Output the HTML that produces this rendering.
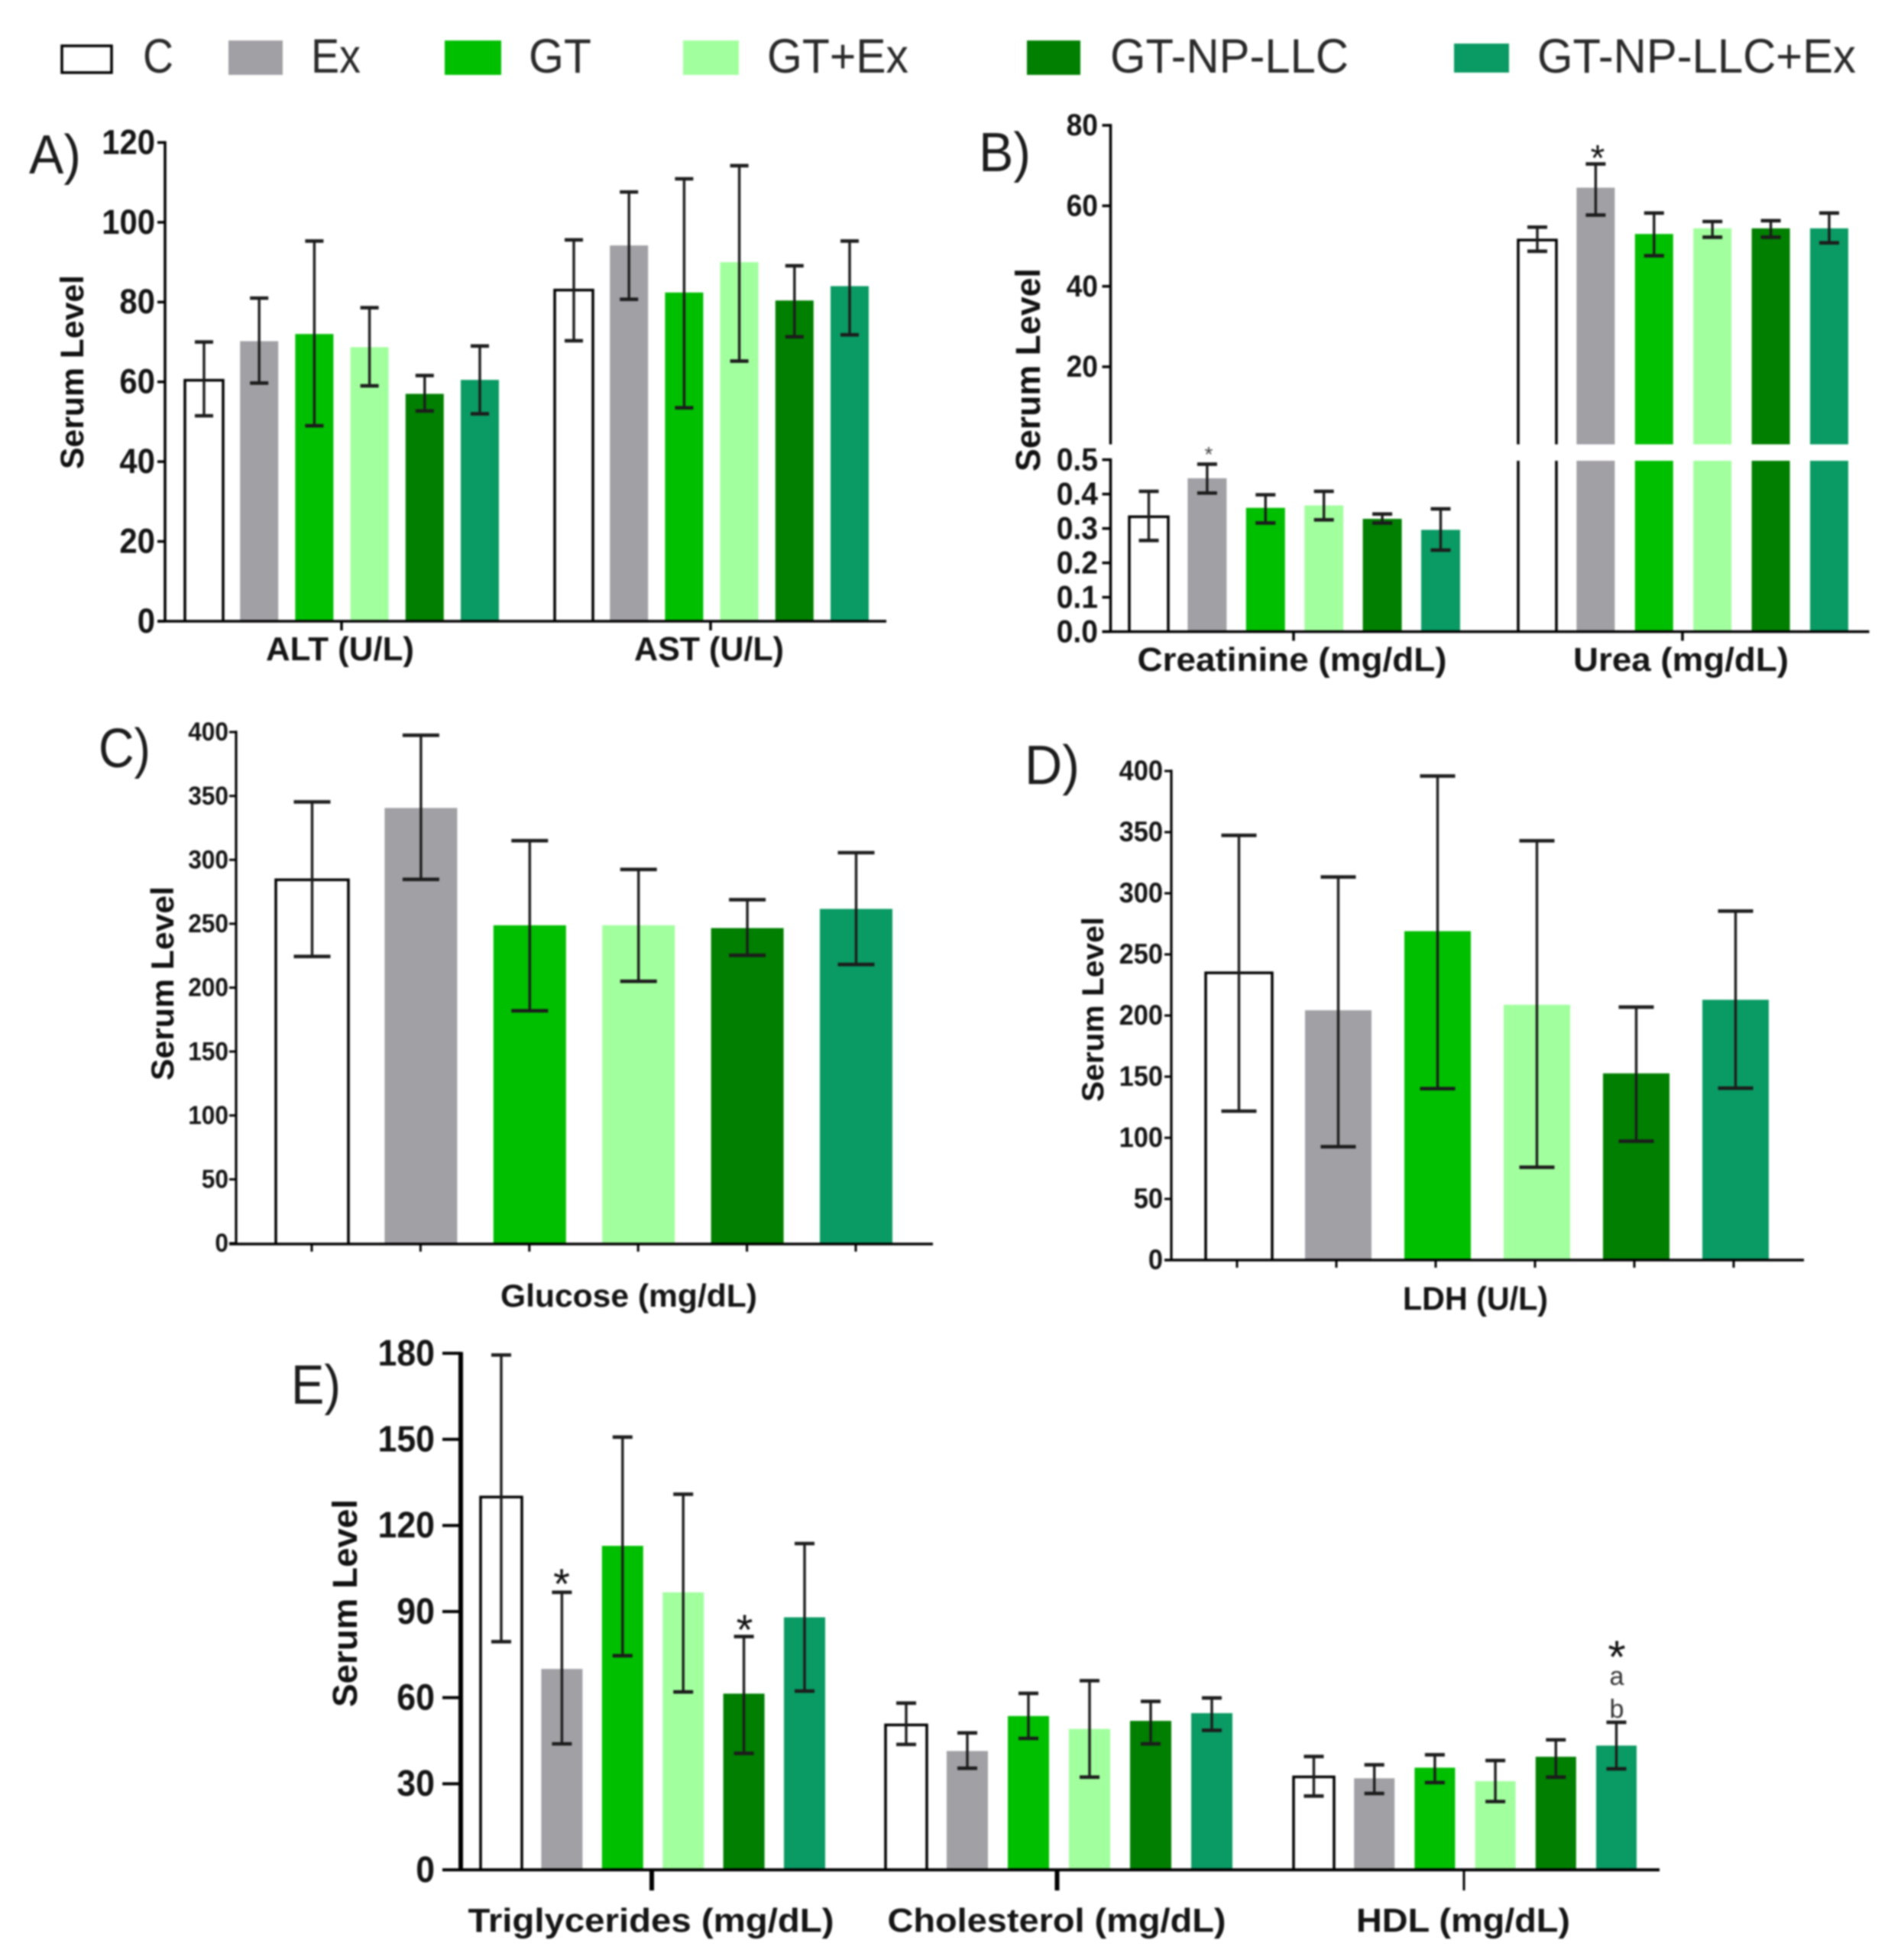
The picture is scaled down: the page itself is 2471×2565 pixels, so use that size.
<!DOCTYPE html>
<html lang="en">
<head>
<meta charset="utf-8">
<title>Serum levels by treatment group</title>
<style>
html,body{margin:0;padding:0;background:#fff;}
svg{display:block;filter:blur(1px);}
text{font-family:"Liberation Sans",sans-serif;}
.s1{fill:#A1A0A5;}
.s2{fill:#00BE00;}
.s3{fill:#A2FF9E;}
.s4{fill:#007F00;}
.s5{fill:#0A9A63;}
.open{fill:#fff;stroke:#000;stroke-width:3.5;}
.open-line{fill:none;stroke:#000;stroke-width:3.5;}
.axis{stroke:#000;stroke-width:3.5;fill:none;}
.err{stroke:#1c1c1c;stroke-width:3.5;fill:none;}
.tick-label{font-weight:bold;fill:#151515;text-anchor:end;}
.x-label{font-weight:bold;fill:#151515;text-anchor:middle;}
.y-title{font-weight:bold;fill:#111;text-anchor:middle;}
.legend-text{font-size:63px;fill:#2a2a2a;}
.panel-letter{font-size:72px;fill:#1c1c1c;}
.note{fill:#111;text-anchor:middle;}
</style>
</head>
<body>
<svg id="chart" xmlns="http://www.w3.org/2000/svg" width="2471" height="2565" viewBox="0 0 2471 2565">
  <rect x="0" y="0" width="2471" height="2565" fill="#fff"/>
  <g>
    <rect class="open" x="81" y="60" width="65" height="35"/>
    <text class="legend-text" x="187" y="95" textLength="40" lengthAdjust="spacingAndGlyphs">C</text>
    <rect class="s1" x="299" y="53" width="71" height="45"/>
    <text class="legend-text" x="407" y="95" textLength="65" lengthAdjust="spacingAndGlyphs">Ex</text>
    <rect class="s2" x="582" y="53" width="74" height="45"/>
    <text class="legend-text" x="692" y="95" textLength="82" lengthAdjust="spacingAndGlyphs">GT</text>
    <rect class="s3" x="894" y="53" width="73" height="45"/>
    <text class="legend-text" x="1004" y="95" textLength="185" lengthAdjust="spacingAndGlyphs">GT+Ex</text>
    <rect class="s4" x="1344" y="53" width="70" height="45"/>
    <text class="legend-text" x="1453" y="95" textLength="312" lengthAdjust="spacingAndGlyphs">GT-NP-LLC</text>
    <rect class="s5" x="1903" y="57" width="72" height="38"/>
    <text class="legend-text" x="2012" y="95" textLength="417" lengthAdjust="spacingAndGlyphs">GT-NP-LLC+Ex</text>
  </g>
  <text class="panel-letter" x="38" y="227" textLength="68" lengthAdjust="spacingAndGlyphs">A)</text>
  <text class="panel-letter" x="1281" y="224" textLength="68" lengthAdjust="spacingAndGlyphs">B)</text>
  <text class="panel-letter" x="129" y="1004" textLength="68" lengthAdjust="spacingAndGlyphs">C)</text>
  <text class="panel-letter" x="1341" y="1026" textLength="72" lengthAdjust="spacingAndGlyphs">D)</text>
  <text class="panel-letter" x="381" y="1837" textLength="65" lengthAdjust="spacingAndGlyphs">E)</text>
</svg>
<script>
// ---------- chart data ----------
const seriesNames = ['C', 'Ex', 'GT', 'GT+Ex', 'GT-NP-LLC', 'GT-NP-LLC+Ex'];

const altMeans = [60.4, 70.2, 72, 68.7, 57, 60.5];
const altHigh = [70, 81, 95.3, 78.6, 61.6, 69];
const altLow = [51.5, 59.7, 49, 59, 52.7, 52];
const astMeans = [83, 94.2, 82.4, 90, 80.4, 84];
const astHigh = [95.6, 107.6, 110.9, 114.2, 89.1, 95.3];
const astLow = [70.3, 80.7, 53.5, 65.2, 71.3, 71.8];
const panelATicks = [0, 20, 40, 60, 80, 100, 120];

const creatinineMeans = [0.334, 0.446, 0.36, 0.367, 0.328, 0.296];
const creatinineHigh = [0.408, 0.487, 0.398, 0.408, 0.342, 0.357];
const creatinineLow = [0.265, 0.403, 0.316, 0.325, 0.316, 0.237];
const ureaMeans = [51.5, 64.5, 53, 54.4, 54.4, 54.4];
const ureaHigh = [54.7, 70.4, 58.2, 56.1, 56.3, 58.2];
const ureaLow = [48.7, 57.7, 47.6, 52.2, 52.2, 50.8];
const panelBLowerTicks = [0, 0.1, 0.2, 0.3, 0.4, 0.5];
const panelBUpperTicks = [20, 40, 60, 80];

const glucoseMeans = [284.4, 340.6, 248.8, 248.8, 246.6, 261.6];
const glucoseHigh = [345.3, 397.5, 315, 292.5, 268.8, 305.6];
const glucoseLow = [224.4, 284.7, 181.9, 205, 225.3, 218.1];
const panelCTicks = [0, 50, 100, 150, 200, 250, 300, 350, 400];

const ldhMeans = [234.9, 204.3, 269, 208.8, 152.7, 212.9];
const ldhHigh = [347.4, 313.3, 395.9, 342.9, 206.9, 285.4];
const ldhLow = [121.8, 92.7, 140.2, 75.9, 97.2, 140.6];
const panelDTicks = [0, 50, 100, 150, 200, 250, 300, 350, 400];

const triglycerideMeans = [129.9, 70, 112.9, 96.7, 61.4, 88];
const triglycerideHigh = [179.4, 96.7, 150.8, 130.9, 81.3, 113.7];
const triglycerideLow = [79.5, 43.9, 74.6, 62, 40.6, 62.3];
const cholesterolMeans = [50.5, 41.4, 53.6, 49.1, 51.9, 54.6];
const cholesterolHigh = [58.1, 47.7, 61.5, 65.9, 58.7, 59.9];
const cholesterolLow = [43.7, 35.4, 45.8, 32.3, 43.9, 48.6];
const hdlMeans = [32.4, 31.9, 35.6, 30.9, 39.4, 43.3];
const hdlHigh = [39.5, 36.6, 40.1, 38.1, 45.3, 51.4];
const hdlLow = [25.7, 26.6, 30.4, 23.8, 32.3, 35.2];
const panelETicks = [0, 30, 60, 90, 120, 150, 180];

// ---------- helpers ----------
const svg = document.getElementById('chart');
const NS = 'http://www.w3.org/2000/svg';

function linear(v0, y0, v1, y1) {
  return function (v) { return y0 + (v - v0) * (y1 - y0) / (v1 - v0); };
}
function add(tag, parent) {
  const el = document.createElementNS(NS, tag);
  parent.appendChild(el);
  return el;
}
function segment(parent, x1, y1, x2, y2, cls, width) {
  const el = add('line', parent);
  el.setAttribute('x1', x1);
  el.setAttribute('y1', y1);
  el.setAttribute('x2', x2);
  el.setAttribute('y2', y2);
  el.setAttribute('class', cls);
  if (width) el.style.strokeWidth = width;
  return el;
}

function drawBar(parent, seriesIndex, left, width, yTop, yBase, openTop) {
  const seriesSlug = seriesNames[seriesIndex].toLowerCase().replace(/\+/g, '-');
  let el;
  if (seriesIndex === 0) {
    el = add('path', parent);
    const r = left + width;
    if (openTop) {
      el.setAttribute('d', 'M' + left + ' ' + yBase + 'V' + yTop + 'M' + r + ' ' + yTop + 'V' + yBase);
    } else {
      el.setAttribute('d', 'M' + left + ' ' + yBase + 'V' + yTop + 'H' + r + 'V' + yBase);
    }
    el.setAttribute('class', 'open-line');
  } else {
    el = add('rect', parent);
    el.setAttribute('x', left);
    el.setAttribute('y', yTop);
    el.setAttribute('width', width);
    el.setAttribute('height', yBase - yTop);
    el.setAttribute('class', 's' + seriesIndex);
  }
  
  
}

function drawErrorBar(parent, cx, yHigh, yLow, capHalf, lineWidth) {
  const g = add('g', parent);
  
  
  segment(g, cx, yHigh, cx, yLow, 'err', lineWidth);
  segment(g, cx - capHalf, yHigh, cx + capHalf, yHigh, 'err', lineWidth + 1.2);
  segment(g, cx - capHalf, yLow, cx + capHalf, yLow, 'err', lineWidth + 1.2);
}

// Draws one cluster of six bars from its arrays through the given y-scale.
function drawGroup(o) {
  const g = add('g', svg);
  
  
  o.means.forEach(function (mean, i) {
    const left = o.start + i * o.step;
    if (o.breakAt) {
      drawBar(g, i, left, o.width, o.breakAt.lowerTop, o.base, true);
      drawBar(g, i, left, o.width, o.y(mean), o.breakAt.upperBottom, false);
    } else {
      drawBar(g, i, left, o.width, o.y(mean), o.base, false);
    }
  });
  o.means.forEach(function (mean, i) {
    const cx = o.start + i * o.step + o.width / 2;
    drawErrorBar(g, cx, o.y(o.high[i]), o.y(o.low[i]), o.cap, o.errWidth);
  });
}

function drawYAxis(o) {
  const g = add('g', svg);
  
  
  segment(g, o.x, o.y(o.ticks[o.ticks.length - 1]) - 1.7, o.x, o.end, 'axis', o.width);
  o.ticks.forEach(function (t) {
    const y = o.y(t);
    segment(g, o.x - o.tickLen, y, o.x, y, 'axis', o.tickWidth);
    const label = add('text', g);
    label.setAttribute('x', o.labelRight);
    label.setAttribute('y', y + o.fontSize * 0.33);
    label.setAttribute('class', 'tick-label');
    label.style.fontSize = o.fontSize + 'px';
    
    
    label.textContent = o.fmt ? o.fmt(t) : String(t);
    // the reference digits are tall and slightly condensed
    label.setAttribute('textLength', (label.getComputedTextLength() * 0.93).toFixed(1));
    label.setAttribute('lengthAdjust', 'spacingAndGlyphs');
  });
}

function drawXAxis(slug, x1, x2, y, width) {
  const el = segment(svg, x1, y, x2, y, 'axis', width);
  
  
}

function drawXTick(x, y, len, width) {
  const el = segment(svg, x, y, x, y + len, 'axis', width);
  
  
}

function drawXLabel(text, cx, baseline, fontSize, length) {
  const el = add('text', svg);
  el.setAttribute('x', cx);
  el.setAttribute('y', baseline);
  el.setAttribute('class', 'x-label');
  el.setAttribute('textLength', length);
  el.setAttribute('lengthAdjust', 'spacingAndGlyphs');
  el.style.fontSize = fontSize + 'px';
  
  
  el.textContent = text;
}

function drawYTitle(baselineX, centerY, fontSize, length) {
  const el = add('text', svg);
  el.setAttribute('transform', 'translate(' + baselineX + ' ' + centerY + ') rotate(-90)');
  el.setAttribute('class', 'y-title');
  el.setAttribute('textLength', length);
  el.setAttribute('lengthAdjust', 'spacingAndGlyphs');
  el.style.fontSize = fontSize + 'px';
  
  
  el.textContent = 'Serum Level';
}

function drawNote(text, cx, baseline, fontSize, fill) {
  const el = add('text', svg);
  el.setAttribute('x', cx);
  el.setAttribute('y', baseline);
  el.setAttribute('class', 'note');
  el.style.fontSize = fontSize + 'px';
  if (fill) el.style.fill = fill;
  
  
  el.textContent = text;
}

// ---------- panel A ----------
const yA = linear(0, 813, 120, 186.5);
drawGroup({slug: 'alt', means: altMeans, high: altHigh, low: altLow, y: yA, base: 813, start: 242, step: 72.2, width: 50, cap: 12, errWidth: 3.4});
drawGroup({slug: 'ast', means: astMeans, high: astHigh, low: astLow, y: yA, base: 813, start: 726, step: 72.2, width: 50, cap: 12, errWidth: 3.4});
drawYAxis({slug: 'a', x: 216, y: yA, ticks: panelATicks, end: 813, tickLen: 10, width: 3.5, tickWidth: 3.5, labelRight: 203, fontSize: 45});
drawXAxis('a', 207, 1160, 813, 3.5);
drawXTick(447, 813, 12, 3.5);
drawXTick(930, 813, 12, 3.5);
drawXLabel('ALT (U/L)', 445, 864, 44, 194);
drawXLabel('AST (U/L)', 928, 864, 44, 196);
drawYTitle(109, 487, 43, 254);

// ---------- panel B (broken axis) ----------
const yBLower = linear(0, 826.6, 0.5, 601.6);
const yBUpper = linear(20, 480, 80, 164);
drawGroup({slug: 'creatinine', means: creatinineMeans, high: creatinineHigh, low: creatinineLow, y: yBLower, base: 826.6, start: 1478, step: 76.4, width: 51, cap: 13, errWidth: 3.4});
drawGroup({slug: 'urea', means: ureaMeans, high: ureaHigh, low: ureaLow, y: yBUpper, base: 826.6, start: 1987, step: 76.4, width: 50, breakAt: {lowerTop: 603, upperBottom: 581.5}, cap: 13, errWidth: 3.4});
drawYAxis({slug: 'b-upper', x: 1453.5, y: yBUpper, ticks: panelBUpperTicks, end: 581.5, tickLen: 11, width: 3.5, tickWidth: 3.5, labelRight: 1437, fontSize: 40});
drawYAxis({slug: 'b-lower', x: 1453.5, y: yBLower, ticks: panelBLowerTicks, end: 826.6, tickLen: 11, width: 3.5, tickWidth: 3.5, labelRight: 1437, fontSize: 42, fmt: function (t) { return t.toFixed(1); }});
drawXAxis('b', 1442.5, 2446.5, 826.6, 3.5);
drawXTick(1693, 826.6, 12, 3.5);
drawXTick(2202, 826.6, 12, 3.5);
drawXLabel('Creatinine (mg/dL)', 1691, 878, 44, 405);
drawXLabel('Urea (mg/dL)', 2200, 878, 44, 282);
drawYTitle(1361, 484, 45, 266);
drawNote('*', 2091, 223, 48);
drawNote('*', 1582, 604, 28, '#444');

// ---------- panel C ----------
const yC = linear(0, 1627, 400, 958);
drawGroup({slug: 'glucose', means: glucoseMeans, high: glucoseHigh, low: glucoseLow, y: yC, base: 1628, start: 361, step: 142.4, width: 95, cap: 24, errWidth: 3.4});
drawYAxis({slug: 'c', x: 309, y: yC, ticks: panelCTicks, end: 1628, tickLen: 9, width: 3.2, tickWidth: 3, labelRight: 299, fontSize: 34});
drawXAxis('c', 300, 1221, 1628, 3.5);
glucoseMeans.forEach(function (m, i) {
  drawXTick(361 + i * 142.4 + 47, 1628, 10, 3);
});
drawXLabel('Glucose (mg/dL)', 823, 1710, 42, 336);
drawYTitle(227, 1287, 42, 254);

// ---------- panel D ----------
const yD = linear(0, 1649, 400, 1009);
drawGroup({slug: 'ldh', means: ldhMeans, high: ldhHigh, low: ldhLow, y: yD, base: 1649, start: 1578, step: 130, width: 87, cap: 23, errWidth: 3.4});
drawYAxis({slug: 'd', x: 1533, y: yD, ticks: panelDTicks, end: 1649, tickLen: 9, width: 3.2, tickWidth: 3, labelRight: 1522, fontSize: 37});
drawXAxis('d', 1524, 2361, 1649, 3.5);
ldhMeans.forEach(function (m, i) {
  drawXTick(1578 + i * 130 + 41, 1649, 10, 3);
});
drawXLabel('LDH (U/L)', 1931, 1714, 43, 190);
drawYTitle(1444, 1321, 40, 242);

// ---------- panel E ----------
const yE = linear(0, 2447, 180, 1771);
drawGroup({slug: 'triglycerides', means: triglycerideMeans, high: triglycerideHigh, low: triglycerideLow, y: yE, base: 2447, start: 629, step: 79.4, width: 54, cap: 13, errWidth: 3.4});
drawGroup({slug: 'cholesterol', means: cholesterolMeans, high: cholesterolHigh, low: cholesterolLow, y: yE, base: 2447, start: 1159, step: 80, width: 54, cap: 13, errWidth: 3.4});
drawGroup({slug: 'hdl', means: hdlMeans, high: hdlHigh, low: hdlLow, y: yE, base: 2447, start: 1693, step: 79.2, width: 53, cap: 13, errWidth: 3.4});
drawYAxis({slug: 'e', x: 603, y: yE, ticks: panelETicks, end: 2447, tickLen: 24, width: 6, tickWidth: 4, labelRight: 569, fontSize: 48});
drawXAxis('e', 579, 2172, 2447, 4);
drawXTick(853, 2447, 27, 6);
drawXTick(1383.5, 2447, 27, 6);
drawXTick(1916, 2447, 27, 3);
drawXLabel('Triglycerides (mg/dL)', 852, 2528, 44, 479);
drawXLabel('Cholesterol (mg/dL)', 1383, 2528, 44, 443);
drawXLabel('HDL (mg/dL)', 1915, 2528, 44, 280);
drawYTitle(467, 2098, 45, 272);
drawNote('*', 735, 2092, 56);
drawNote('*', 974.5, 2152, 56);
drawNote('*', 2116, 2189, 60);
drawNote('a', 2116, 2205, 34, '#333');
drawNote('b', 2116, 2248, 34, '#333');
</script>
</body>
</html>
